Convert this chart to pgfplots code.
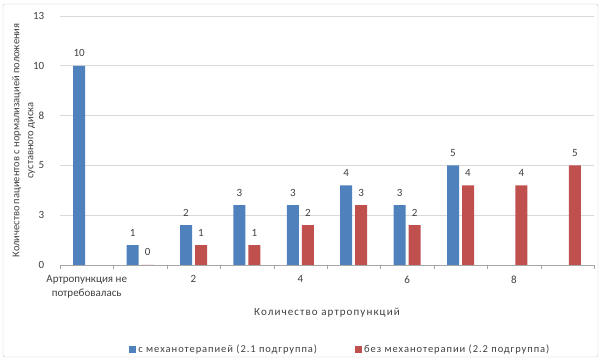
\documentclass[border=0pt]{standalone}
\usepackage{pgfplots}
\pgfplotsset{compat=1.18}
\usepackage{fontspec}
\setmainfont{Carlito}
\newfontfamily\wideA[LetterSpace=10]{Carlito}
\newfontfamily\wideB[LetterSpace=9]{Carlito}
\definecolor{cblue}{HTML}{4F81BD}
\definecolor{cred}{HTML}{C0504D}
\definecolor{txt}{HTML}{404040}
\definecolor{gridc}{HTML}{D9D9D9}
\begin{document}
\begin{tikzpicture}[x=1pt,y=1pt]
\useasboundingbox (0,0) rectangle (602,361);
\draw[gray!45, rounded corners=2pt] (3,4) rectangle (598,357);
\begin{axis}[
  at={(60pt,96pt)}, anchor=south west,
  scale only axis, width=534pt, height=249pt,
  xmin=0.5, xmax=10.5, ymin=0, ymax=12.5,
  ybar=3pt, bar width=12pt,
  axis x line*=bottom, axis y line*=left,
  x axis line style={draw=gray!70, -},
  y axis line style={draw=none},
  /pgf/number format/assume math mode=true,
  xtick={1,3,5,7,9},
  xticklabels={{Артропункция не\\потребовалась},2,4,6,8},
  xticklabel style={align=center, font=\fontsize{11}{14}\selectfont, text=txt, yshift=-3pt},
  major x tick style={draw=none},
  minor xtick={0.5,1.5,...,10.5},
  minor x tick style={draw=gray!70},
  tick align=outside, minor tick length=4pt,
  ytick={0,2.5,5,7.5,10,12.5},
  yticklabels={0,3,5,8,10,13},
  major y tick style={draw=none},
  yticklabel style={font=\fontsize{11}{13}\selectfont, text=txt, xshift=-8pt},
  ymajorgrids, grid style={draw=gridc, line width=0.8pt},
  ylabel={Количество пациентов с нормализацией положения\\суставного диска},
  ylabel style={align=center, font=\fontsize{10.5}{14}\selectfont, text=txt, at={(axis description cs:-0.04,0.5)}, anchor=south},
  xlabel={Количество артропункций},
  xlabel style={font=\wideA\fontsize{11}{13}\selectfont, text=txt, at={(axis description cs:0.5,0)}, anchor=center, yshift=-48pt},
  nodes near coords,
  every node near coord/.append style={font=\fontsize{11}{12}\selectfont, text=txt, anchor=base, yshift=9pt},
  legend style={at={(axis description cs:0.525,0)}, anchor=center, yshift=-84pt, draw=none, fill=none,
    legend columns=2, font=\wideB\fontsize{10.5}{12}\selectfont, text=txt,
    /tikz/every even column/.append style={column sep=36pt}},
  legend image code/.code={\fill[#1] (0pt,-3.5pt) rectangle (7pt,3.5pt);},
]
\addplot[fill=cblue, draw=none] coordinates {(1,10) (2,1) (3,2) (4,3) (5,3) (6,4) (7,3) (8,5)};
\addplot[fill=cred, draw=none] coordinates {(2,0) (3,1) (4,1) (5,2) (6,3) (7,2) (8,4) (9,4) (10,5)};
\legend{с механотерапией (2.1 подгруппа), без механотерапии (2.2 подгруппа)}
\end{axis}
\end{tikzpicture}
\end{document}
